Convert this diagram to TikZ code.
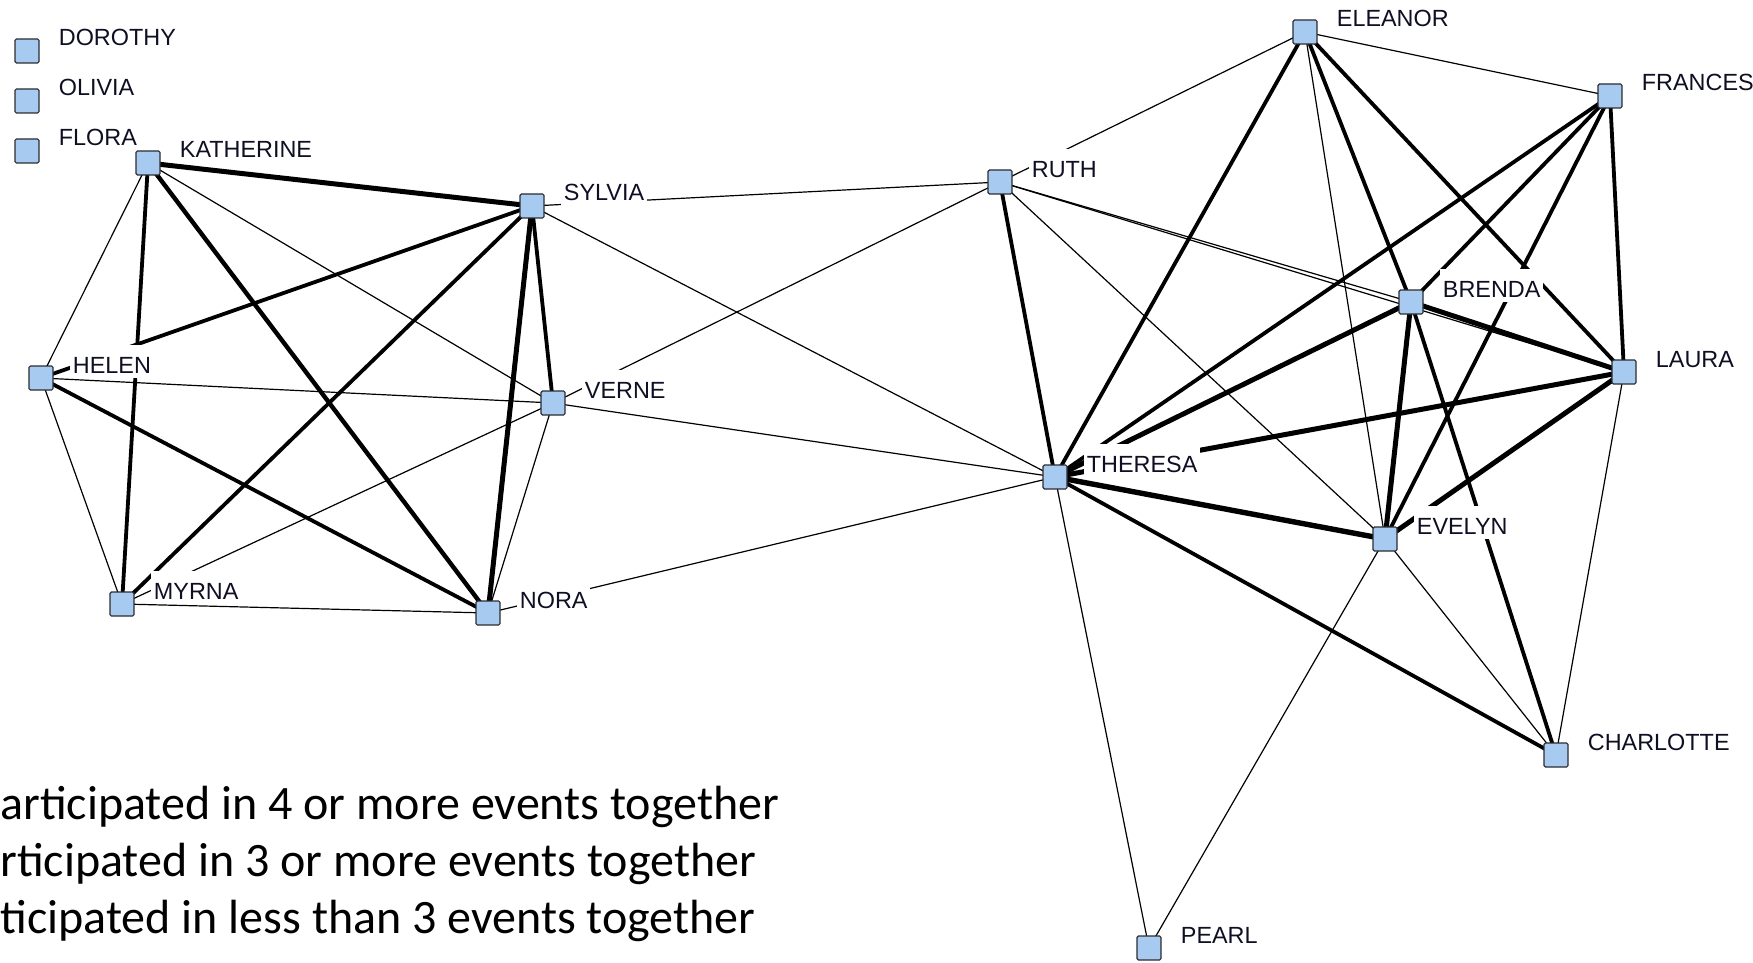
\documentclass[tikz,border=0pt]{standalone}
\usepackage{fontspec}
\setmainfont{Liberation Sans}
\newfontfamily\legendfont{Carlito}
\pgfdeclarelayer{edgelayer}
\pgfdeclarelayer{labellayer}
\pgfsetlayers{edgelayer,labellayer,main}
\definecolor{boxfill}{RGB}{166,202,240}
\definecolor{boxline}{RGB}{45,45,50}
\definecolor{labeltext}{RGB}{15,15,35}

% one woman: a square marker plus its name tag (white tag hides lines behind it)
\newcommand\womannode[3]{%
  \node[actor] (#1) at (#2) {};
  \begin{pgfonlayer}{labellayer}
    \node[name tag] (#1-tag) at ([shift={(29,-5)}]#1.center) {#3};
  \end{pgfonlayer}}

\begin{document}
\begin{tikzpicture}[x=0.5pt,y=-0.5pt,
  actor/.style={rectangle, draw=boxline, fill=boxfill, line width=0.6pt,
    minimum size=12pt, inner sep=0pt, rounded corners=0.7pt},
  name tag/.style={fill=white, inner xsep=1.25pt, inner ysep=2.5pt,
    text height=11.5pt, text depth=0pt, anchor=base west,
    font=\fontsize{11.7}{13}\selectfont, text=labeltext},
  tie3/.style={line width=0.6pt},
  tie4/.style={line width=1.9pt},
  tie5/.style={line width=2.2pt},
  tie6/.style={line width=2.5pt},
  tie7/.style={line width=2.7pt},
  legend line/.style={anchor=base west, inner sep=0pt,
    font=\legendfont\fontsize{24}{29}\selectfont}]

\useasboundingbox (0,0) rectangle (1753,963);
\begin{pgfonlayer}{edgelayer}
  \fill[white] (0,0) rectangle (1753,963);
\end{pgfonlayer}

% isolates
\womannode{dorothy}{27,51}{DOROTHY}
\womannode{olivia}{27,101}{OLIVIA}
\womannode{flora}{27,151}{FLORA}

% left group
\womannode{katherine}{148,163}{KATHERINE}
\womannode{sylvia}{532,206}{SYLVIA}
\womannode{helen}{41,378}{HELEN}
\womannode{verne}{553,403}{VERNE}
\womannode{myrna}{122,604}{MYRNA}
\womannode{nora}{488,613}{NORA}

% right group
\womannode{ruth}{1000,182}{RUTH}
\womannode{eleanor}{1305,32}{ELEANOR}
\womannode{frances}{1610,96}{FRANCES}
\womannode{brenda}{1411,302}{BRENDA}
\womannode{laura}{1624,372}{LAURA}
\womannode{theresa}{1055,477}{THERESA}
\womannode{evelyn}{1385,539}{EVELYN}
\womannode{charlotte}{1556,755}{CHARLOTTE}
\womannode{pearl}{1149,948}{PEARL}

\begin{pgfonlayer}{edgelayer}
  % ties of three shared events
  \foreach \a/\b in {katherine/helen, katherine/verne, sylvia/ruth, sylvia/theresa,
      helen/verne, helen/myrna, myrna/verne, myrna/nora, verne/nora, verne/ruth,
      verne/theresa, nora/theresa, ruth/eleanor, ruth/brenda, ruth/laura,
      ruth/evelyn, eleanor/frances, eleanor/evelyn, laura/charlotte,
      theresa/pearl, evelyn/charlotte, evelyn/pearl}
    \draw[tie3] (\a.center) -- (\b.center);
  % ties of four shared events
  \foreach \a/\b in {katherine/myrna, sylvia/helen, sylvia/myrna, sylvia/verne,
      helen/nora, eleanor/theresa, eleanor/brenda, eleanor/laura, frances/theresa,
      frances/brenda, frances/evelyn, frances/laura, brenda/charlotte,
      theresa/charlotte, ruth/theresa}
    \draw[tie4] (\a.center) -- (\b.center);
  % five and more
  \draw[tie5] (katherine.center) -- (nora.center);
  \foreach \a/\b in {katherine/sylvia, sylvia/nora, brenda/laura, brenda/theresa,
      brenda/evelyn, laura/theresa, laura/evelyn}
    \draw[tie6] (\a.center) -- (\b.center);
  \draw[tie7] (theresa.center) -- (evelyn.center);
\end{pgfonlayer}

% legend
\node[legend line] (legend-a) at (0,819) {articipated in 4 or more events together};
\node[legend line] (legend-b) at (0,876) {rticipated in 3 or more events together};
\node[legend line] (legend-c) at (0,933) {ticipated in less than 3 events together};
\end{tikzpicture}
\end{document}
